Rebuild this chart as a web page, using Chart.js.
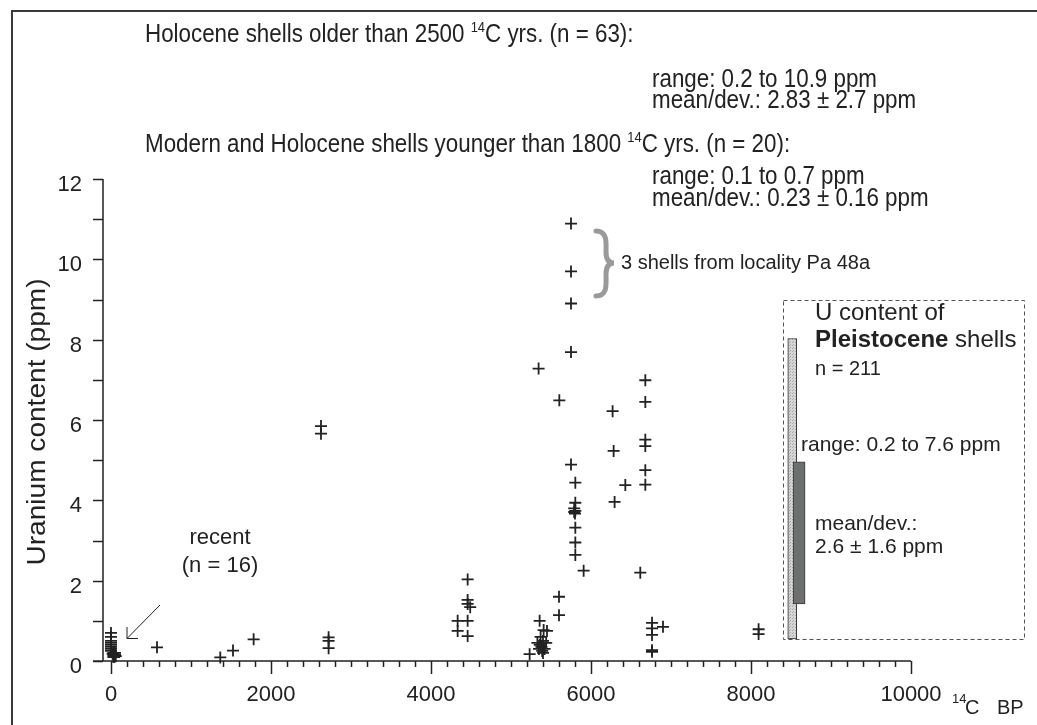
<!DOCTYPE html>
<html>
<head>
<meta charset="utf-8">
<script src="https://cdn.jsdelivr.net/npm/chart.js@4"></script>
<style>
  html, body { margin: 0; padding: 0; background: #fff; }
</style>
</head>
<body>
<canvas id="uchart" width="1037" height="725"></canvas>
<script>
// Data (x = 14C age BP, y = U content ppm)
const recentX = [0, 0, 0, 0, 0, 0, 0, 0, 30, 30, 30, 50, 50, 60, 20, 40];
const recentY = [0.7, 0.6, 0.5, 0.45, 0.4, 0.35, 0.3, 0.25, 0.2, 0.15, 0.1, 0.2, 0.15, 0.12, 0.18, 0.1];
const youngerX = [575, 1366, 1525, 1783];
const youngerY = [0.34, 0.09, 0.26, 0.54];
const olderX = [2625, 2625, 2720, 2720, 2720, 4333, 4333, 4458, 4458, 4458, 4490, 4458, 4458,
  5233, 5358, 5408, 5450, 5330, 5360, 5380, 5400, 5420, 5350, 5400, 5370, 5440, 5390,
  5345, 5604, 5600, 5600, 5750, 5750, 5750, 5750, 5750,
  5804, 5804, 5790, 5804, 5790, 5800, 5804, 5804, 5804, 5908,
  6270, 6283, 6295, 6429, 6616, 6679, 6679, 6679, 6679, 6679, 6679,
  6763, 6763, 6763, 6763, 6763, 6900, 8095, 8095];
const olderY = [5.85, 5.66, 0.59, 0.5, 0.32, 1.0, 0.75, 2.03, 1.52, 1.42, 1.34, 1.0, 0.62,
  0.17, 1.0, 0.77, 0.75, 0.45, 0.4, 0.35, 0.5, 0.3, 0.3, 0.2, 0.6, 0.45, 0.25,
  7.28, 6.49, 1.6, 1.14, 10.89, 9.7, 8.9, 7.69, 4.89,
  4.44, 3.94, 3.8, 3.74, 3.71, 3.67, 3.32, 2.95, 2.64, 2.25,
  6.22, 5.23, 3.96, 4.38, 2.2, 6.99, 6.45, 5.51, 5.35, 4.75, 4.39,
  0.95, 0.81, 0.65, 0.27, 0.23, 0.85, 0.79, 0.67];
// Pleistocene summary bars (as drawn in the figure)
const pleistoX = [8516, 8601];
const pleistoLow = [0.55, 1.42];
const pleistoHigh = [8.03, 4.96];

const xTicks = [0, 2000, 4000, 6000, 8000, 10000];
const yTicks = [0, 2, 4, 6, 8, 10, 12];

const ink = '#222';
const FONT = '"Liberation Sans", Arial, sans-serif';

const toPoints = (xs, ys) => xs.map((x, i) => ({x: x, y: ys[i]}));

// light stipple for the range bar
const pat = document.createElement('canvas');
pat.width = 3; pat.height = 3;
const pctx = pat.getContext('2d');
pctx.fillStyle = '#d6d6d6'; pctx.fillRect(0, 0, 3, 3);
pctx.fillStyle = '#a8a8a8'; pctx.fillRect(0, 0, 1, 1); pctx.fillRect(1, 2, 1, 1);
const canvas = document.getElementById('uchart');
const stipple = canvas.getContext('2d').createPattern(pat, 'repeat');

// draw a run of text pieces, each {t, size, bold, dy}; sx squeezes horizontally
function drawRun(ctx, x, y, pieces, sx) {
    sx = sx || 1;
    ctx.save();
    ctx.translate(x, y);
    ctx.scale(sx, 1);
    let cx = 0;
    pieces.forEach(p => {
        ctx.font = (p.bold ? 'bold ' : '') + p.size + 'px ' + FONT;
        ctx.fillText(p.t, cx, p.dy || 0);
        cx += ctx.measureText(p.t).width;
    });
    ctx.restore();
}

const figureDecor = {
    id: 'figureDecor',
    beforeDatasetsDraw(chart) {
        const {ctx, scales: {x, y}} = chart;
        ctx.save();
        ctx.fillStyle = ink;

        // outer frame (top + left)
        ctx.lineWidth = 2;
        ctx.strokeStyle = '#3a3a3a';
        ctx.beginPath();
        ctx.moveTo(1037, 11); ctx.lineTo(12, 11); ctx.lineTo(12, 725);
        ctx.stroke();

        ctx.strokeStyle = ink;
        ctx.lineWidth = 1.5;
        const x0 = x.getPixelForValue(x.min);
        const x1 = x.getPixelForValue(x.max);
        const y0 = y.getPixelForValue(0);
        const y1 = y.getPixelForValue(12);
        ctx.beginPath();
        ctx.moveTo(x0, y1); ctx.lineTo(x0, y0);
        ctx.moveTo(x0 - 10, y0); ctx.lineTo(x1, y0);
        // y ticks every 1
        for (let v = 0; v <= 12; v++) {
            const py = Math.round(y.getPixelForValue(v)) + 0.5;
            ctx.moveTo(x0 - 10, py); ctx.lineTo(x0, py);
        }
        // x ticks every 200, long at 2000
        for (let v = 0; v <= 10000; v += 200) {
            const px = Math.round(x.getPixelForValue(v)) + 0.5;
            ctx.moveTo(px, y0); ctx.lineTo(px, y0 + (v % 2000 === 0 ? 13 : 6));
        }
        ctx.stroke();

        ctx.font = '22px ' + FONT;
        ctx.textBaseline = 'middle';
        ctx.textAlign = 'right';
        yTicks.forEach(v => ctx.fillText(String(v), 82, y.getPixelForValue(v) + 6));
        ctx.textAlign = 'center';
        xTicks.forEach(v => ctx.fillText(String(v), x.getPixelForValue(v), 695));

        // x unit label
        ctx.textAlign = 'left';
        ctx.textBaseline = 'alphabetic';
        drawRun(ctx, 952, 703, [{t: '14', size: 13}]);
        drawRun(ctx, 965, 714, [{t: 'C', size: 20}]);
        drawRun(ctx, 997, 714, [{t: 'BP', size: 20}]);

        // y title
        ctx.save();
        ctx.translate(38, 422);
        ctx.rotate(-Math.PI / 2);
        ctx.scale(1.08, 1);
        ctx.textAlign = 'center';
        ctx.textBaseline = 'middle';
        ctx.font = '26px ' + FONT;
        ctx.fillText('Uranium content (ppm)', 0, 0);
        ctx.restore();

        // header statistics (condensed face)
        ctx.textBaseline = 'middle';
        const sq = 0.86;
        drawRun(ctx, 145, 35, [
            {t: 'Holocene shells older than 2500 ', size: 26},
            {t: '14', size: 15, dy: -7},
            {t: 'C yrs. (n = 63):', size: 26}], sq);
        drawRun(ctx, 652, 80, [{t: 'range: 0.2 to 10.9 ppm', size: 26}], sq);
        drawRun(ctx, 652, 101, [{t: 'mean/dev.: 2.83 \u00b1 2.7 ppm', size: 26}], sq);
        drawRun(ctx, 145, 145, [
            {t: 'Modern and Holocene shells younger than 1800 ', size: 26},
            {t: '14', size: 15, dy: -7},
            {t: 'C yrs. (n = 20):', size: 26}], sq);
        drawRun(ctx, 652, 177, [{t: 'range: 0.1 to 0.7 ppm', size: 26}], sq);
        drawRun(ctx, 652, 199, [{t: 'mean/dev.: 0.23 \u00b1 0.16 ppm', size: 26}], sq);

        // recent annotation + arrow
        ctx.textAlign = 'center';
        ctx.font = '22px ' + FONT;
        ctx.fillText('recent', 220, 538);
        ctx.fillText('(n = 16)', 220, 566);
        ctx.lineWidth = 1;
        ctx.beginPath();
        ctx.moveTo(160, 605); ctx.lineTo(127, 638.5);
        ctx.moveTo(127, 638.5); ctx.lineTo(138, 638.5);
        ctx.moveTo(127, 638.5); ctx.lineTo(127, 627);
        ctx.stroke();

        // gray brace + locality note
        ctx.strokeStyle = '#9a9a9a';
        ctx.lineWidth = 5;
        ctx.lineCap = 'round';
        ctx.beginPath();
        ctx.moveTo(596, 231);
        ctx.bezierCurveTo(608, 231, 606, 244, 606, 252);
        ctx.bezierCurveTo(606, 258, 608, 263, 614, 263);
        ctx.bezierCurveTo(608, 263, 606, 268, 606, 274);
        ctx.bezierCurveTo(606, 284, 608, 296, 596, 296);
        ctx.stroke();
        ctx.fillStyle = ink;
        ctx.textAlign = 'left';
        ctx.font = '20px ' + FONT;
        ctx.fillText('3 shells from locality Pa 48a', 621, 263);

        // Pleistocene box
        ctx.strokeStyle = '#555';
        ctx.lineWidth = 1;
        ctx.lineCap = 'butt';
        ctx.setLineDash([4, 3]);
        ctx.strokeRect(783.5, 300.5, 241, 339);
        ctx.setLineDash([]);
        ctx.textBaseline = 'middle';
        drawRun(ctx, 815, 313, [{t: 'U content of', size: 24}]);
        drawRun(ctx, 815, 340, [{t: 'Pleistocene', size: 24, bold: true}, {t: ' shells', size: 24}]);
        drawRun(ctx, 815, 369, [{t: 'n = 211', size: 20}]);
        drawRun(ctx, 801, 445, [{t: 'range: 0.2 to 7.6 ppm', size: 21}]);
        drawRun(ctx, 815, 524, [{t: 'mean/dev.:', size: 21}]);
        drawRun(ctx, 815, 547, [{t: '2.6 \u00b1 1.6 ppm', size: 21}]);
        ctx.restore();
    }
};

const crossStyle = {
    pointStyle: 'cross',
    pointRadius: 6,
    pointHoverRadius: 6,
    borderColor: ink,
    borderWidth: 1.8,
    backgroundColor: ink,
    clip: false,
};

const config = {
    type: 'scatter',
    data: {
        datasets: [
            Object.assign({label: 'Holocene > 2500 yr', data: toPoints(olderX, olderY)}, crossStyle),
            Object.assign({label: 'Holocene < 1800 yr', data: toPoints(youngerX, youngerY)}, crossStyle),
            Object.assign({label: 'recent', data: toPoints(recentX, recentY)}, crossStyle),
            {
                type: 'bar',
                label: 'mean/dev.',
                data: [{x: pleistoX[1], y: [pleistoLow[1], pleistoHigh[1]]}],
                backgroundColor: '#6e6f6f',
                borderColor: '#3a3a3a',
                borderWidth: 1,
                borderSkipped: false,
                barThickness: 12,
                grouped: false,
                order: 0,
            },
            {
                type: 'bar',
                label: 'range',
                data: [{x: pleistoX[0], y: [pleistoLow[0], pleistoHigh[0]]}],
                backgroundColor: stipple,
                borderColor: '#2a2a2a',
                borderWidth: 1,
                borderSkipped: false,
                barThickness: 9,
                grouped: false,
                order: 1,
            },
        ],
    },
    plugins: [figureDecor],
    options: {
        responsive: false,
        animation: false,
        events: [],
        layout: {
            padding: {left: 103, right: 126, top: 179, bottom: 64},
        },
        plugins: {
            legend: {display: false},
            tooltip: {enabled: false},
            title: {display: false},
        },
        scales: {
            x: {type: 'linear', min: -100, max: 10000, offset: false, display: false},
            y: {type: 'linear', min: 0, max: 12, display: false},
        },
    },
};

new Chart(canvas, config);
</script>
</body>
</html>
